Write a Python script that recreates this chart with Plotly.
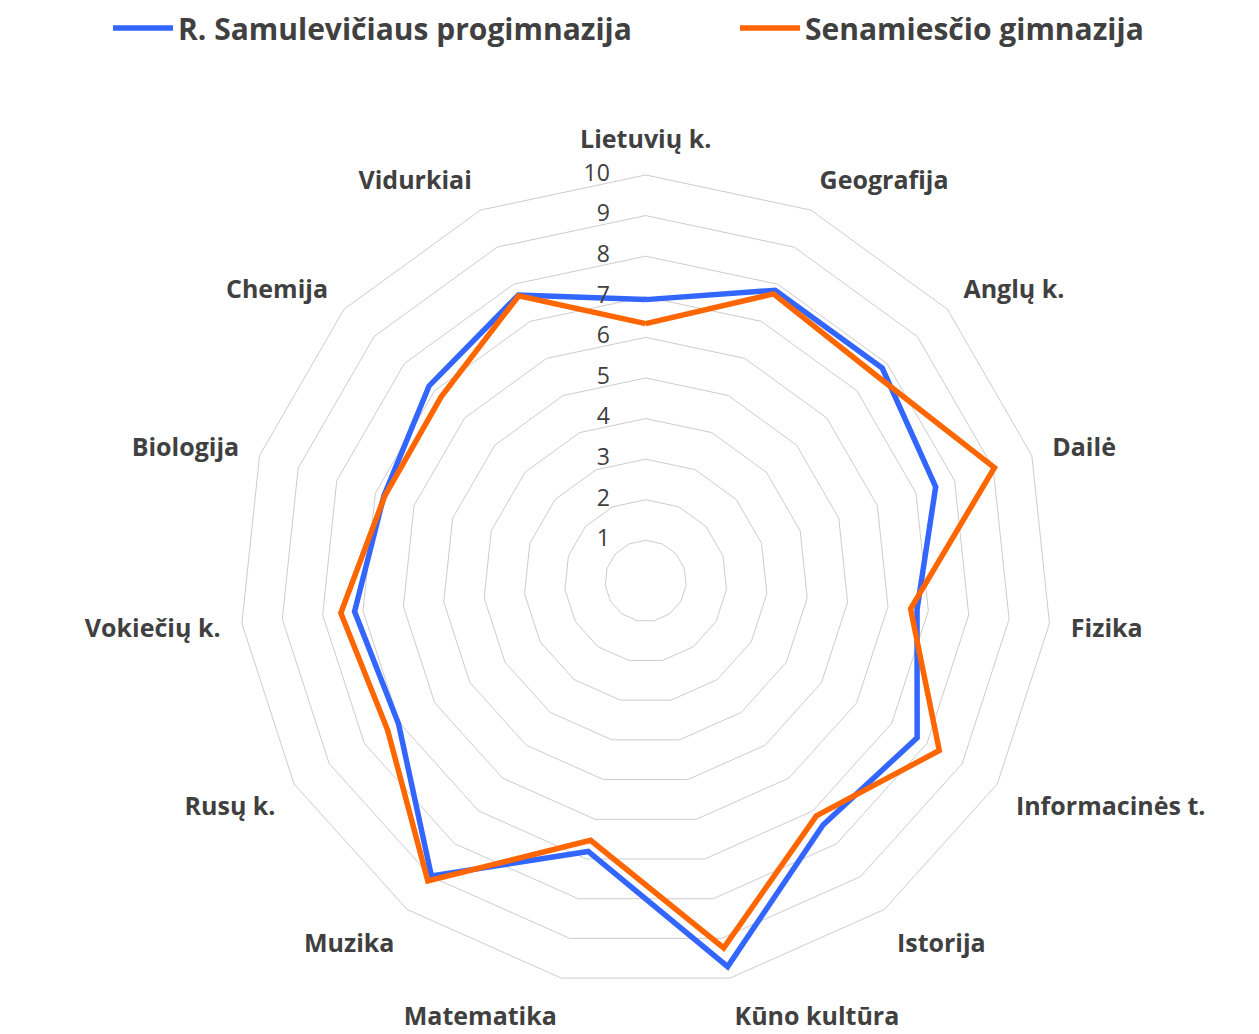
import plotly.graph_objects as go

# dalykai (pagal laikrodžio rodyklę nuo viršaus)
subjects = ['Lietuvių k.', 'Geografija', 'Anglų k.', 'Dailė', 'Fizika',
            'Informacinės t.', 'Istorija', 'Kūno kultūra', 'Matematika',
            'Muzika', 'Rusų k.', 'Vokiečių k.', 'Biologija', 'Chemija',
            'Vidurkiai']

samulevicius = [6.93, 7.84, 7.84, 7.51, 6.72, 7.72, 7.43, 9.71, 6.81,
                8.98, 7.03, 7.21, 6.78, 7.18, 7.71]
senamiestis = [6.34, 7.74, 7.6, 9.03, 6.56, 8.35, 7.15, 9.24, 6.53,
               9.13, 7.34, 7.55, 6.76, 6.78, 7.69]

series_names = ['R. Samulevičiaus progimnazija', 'Senamiesčio gimnazija']
series_colors = ['#3366FF', '#FF6600']
radial_ticks = list(range(0, 11))

FONT = 'Open Sans'
TEXT = '#404040'
GRID = '#cccccc'

fig = go.Figure()
# kiekviena serija turi savo legendą, kad įrašai stovėtų kaip originale
for name, vals, col, leg in zip(series_names, [samulevicius, senamiestis],
                                series_colors, ['legend', 'legend2']):
    fig.add_trace(go.Scatterpolar(
        r=vals + vals[:1],
        theta=subjects + subjects[:1],
        mode='lines',
        name=name,
        legend=leg,
        line=dict(color=col, width=5.5),
    ))

# skalės skaičiai kairėje nuo vertikalios ašies (kaip Excel)
fig.add_trace(go.Scatterpolar(
    r=radial_ticks,
    theta=[subjects[0]] * len(radial_ticks),
    mode='text',
    text=[f"{t}" + "\u00a0" * 6 for t in radial_ticks],
    textposition='middle left',
    textfont=dict(size=23, color=TEXT),
    cliponaxis=False,
    showlegend=False,
    hoverinfo='skip',
))

legend_style = dict(
    orientation='h', xanchor='left', y=1 - 20 / 1034, yanchor='middle',
    font=dict(size=30, weight=700, color=TEXT),
    bgcolor='rgba(0,0,0,0)',
    itemwidth=60,
)

fig.update_layout(
    width=1259, height=1034,
    margin=dict(l=0, r=0, t=0, b=0, autoexpand=False),
    paper_bgcolor='white',
    font=dict(family=FONT, color=TEXT),
    showlegend=True,
    legend=dict(x=100 / 1259, **legend_style),
    legend2=dict(x=727 / 1259, **legend_style),
    polar=dict(
        domain=dict(x=[0.18403, 0.82899], y=[0.0532, 0.8385]),
        bgcolor='white',
        gridshape='linear',
        radialaxis=dict(
            range=[-0.001, 10],
            tickvals=radial_ticks,
            showticklabels=False,
            showline=False,
            showgrid=True,
            gridcolor=GRID,
            gridwidth=1,
            ticks='',
        ),
        angularaxis=dict(
            rotation=90,
            direction='clockwise',
            showgrid=False,
            showline=True,
            linecolor=GRID,
            linewidth=1,
            ticks='outside',
            ticklen=16,
            tickcolor='rgba(0,0,0,0)',
            tickfont=dict(size=25, weight=700, color=TEXT),
        ),
    ),
)

fig.write_html("out.html")
